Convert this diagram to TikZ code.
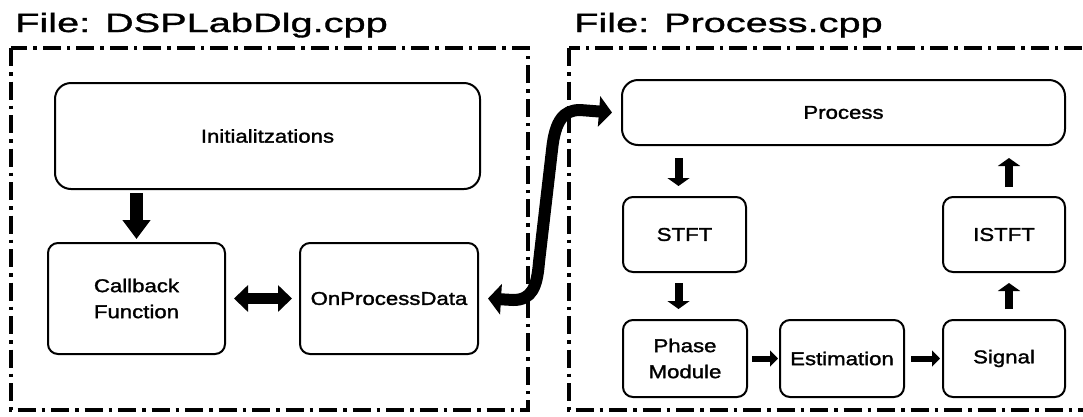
\documentclass[tikz,border=0pt]{standalone}
\usepackage{fontspec}
\setmainfont{Liberation Sans}
\newfontfamily\titlefont[FakeStretch=1.5,FakeBold=1.3]{Liberation Sans}
\newfontfamily\boxfont[FakeStretch=1.2,FakeBold=1.6]{Liberation Sans}
\usetikzlibrary{arrows.meta}
\begin{document}
\begin{tikzpicture}[x=1pt,y=-1pt,
  frame/.style={line width=4pt, dash pattern=on 18pt off 6pt on 3.5pt off 6pt},
  title/.style={anchor=base west, inner sep=0pt, font=\titlefont\fontsize{26.5}{30}\selectfont},
  blk/.style={draw, line width=2pt, rounded corners=10pt, align=center, inner sep=0pt,
    font=\boxfont\fontsize{18.5}{26}\selectfont},
  bigblk/.style={blk, rounded corners=16pt},
  fat/.style={line width=13pt, -{Triangle[width=27pt,length=19pt]}},
  dbl/.style={line width=11pt, {Triangle[width=26pt,length=14pt]}-{Triangle[width=26pt,length=14pt]}},
  sarrow/.style={line width=12pt, line join=round,
    {Triangle[width=30pt,length=13pt]}-{Triangle[width=30pt,length=13pt]}},
  sv/.style={line width=8pt, -{Triangle[width=22pt,length=8pt]}},
  sh/.style={line width=6pt, -{Triangle[width=16pt,length=8pt]}}]
\useasboundingbox (0,0) rectangle (1083,416);
\clip (0,0) rectangle (1083,416);

% file titles
\node[title] (t1) at (15,32) {File: DSPLabDlg.cpp};
\node[title] (t2) at (574,32) {File: Process.cpp};

% dash-dotted file frames
\draw[frame] (11,48) rectangle (528,410);
\draw[frame] (569,48) rectangle (1100,410);

% DSPLabDlg.cpp blocks
\node[bigblk, minimum width=425pt, minimum height=106pt] (init) at (267.5,136) {Initialitzations};
\node[blk, minimum width=177pt, minimum height=111pt] (cb) at (136.5,298.5) {Callback\\Function};
\node[blk, minimum width=178pt, minimum height=111pt] (ope) at (389,298.5) {OnProcessData};

% Process.cpp blocks
\node[bigblk, minimum width=443pt, minimum height=65pt] (proc) at (843.5,112.5) {Process};
\node[blk, minimum width=123pt, minimum height=75pt] (stft) at (684.5,234.5) {STFT};
\node[blk, minimum width=122pt, minimum height=75pt] (istft) at (1004,234.5) {ISTFT};
\node[blk, minimum width=124pt, minimum height=77pt] (phase) at (685,358.5) {Phase\\Module};
\node[blk, minimum width=124pt, minimum height=77pt] (est) at (842,358.5) {Estimation};
\node[blk, minimum width=122pt, minimum height=77pt] (sig) at (1004,358.5) {Signal};

% connectors inside DSPLabDlg.cpp
\draw[fat, shorten <=3pt, shorten >=3pt] (cb.north |- init.south) -- (cb.north);
\draw[dbl, shorten <=8pt, shorten >=7pt] (cb.east) -- (ope.west);

% link between the two files
\coordinate (b1) at (513,300);
\coordinate (b2) at (539,262);
\coordinate (b3) at (552,150);
\coordinate (b4) at (580,110);
\draw[sarrow] ([xshift=9pt]ope.east) -- (b1)
  .. controls (532,300) and (537,287) .. (b2) -- (b3)
  .. controls (555,120) and (564,110) .. (b4) -- ([xshift=-9pt]proc.west);

% processing chain
\draw[sv, shorten <=12pt, shorten >=10pt] ([xshift=-6pt]stft.north |- proc.south) -- ([xshift=-6pt]stft.north);
\draw[sv, shorten <=10pt, shorten >=10pt] ([xshift=-6pt]stft.south) -- ([xshift=-6pt]stft.south |- phase.north);
\draw[sh, shorten <=4pt, shorten >=1pt] (phase.east) -- (est.west);
\draw[sh, shorten <=6pt, shorten >=2pt] (est.east) -- (sig.west);
\draw[sv, shorten <=10pt, shorten >=10pt] ([xshift=5pt]sig.north) -- ([xshift=5pt]istft.south);
\draw[sv, shorten <=9pt, shorten >=12pt] ([xshift=5pt]istft.north) -- ([xshift=5pt]istft.north |- proc.south);
\end{tikzpicture}
\end{document}
